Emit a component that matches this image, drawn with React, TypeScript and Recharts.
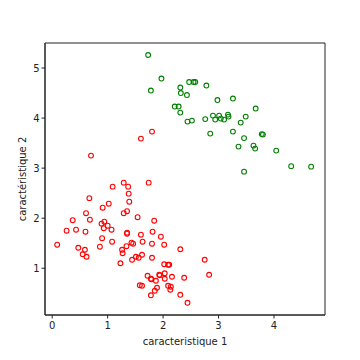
import { ScatterChart, Scatter, XAxis, YAxis, ReferenceArea } from "recharts"

// classe verte (caractéristique 1, caractéristique 2)
const greenX = [
  1.73, 1.97, 1.78, 2.31, 2.32, 2.43, 2.47, 2.21, 2.28, 2.31, 2.44, 2.55, 2.58, 2.78, 2.98, 3.26,
  3.67, 2.52, 2.76, 2.9, 2.94, 3.01, 3.04, 3.1, 3.17, 3.18, 3.49, 3.4, 2.85, 3.26, 3.46, 3.78,
  3.8, 3.36, 3.63, 3.66, 4.04, 4.31, 4.67, 3.46,
]
const greenY = [
  5.26, 4.79, 4.55, 4.61, 4.5, 4.46, 4.72, 4.23, 4.23, 4.11, 3.93, 4.72, 4.72, 4.65, 4.36, 4.39,
  4.19, 3.95, 3.98, 4.05, 3.97, 4.05, 3.99, 3.97, 4.07, 4.03, 4.03, 3.91, 3.69, 3.73, 3.6, 3.68,
  3.67, 3.43, 3.45, 3.39, 3.35, 3.04, 3.03, 2.93,
]

// classe rouge
const redX = [
  1.8, 1.6, 0.7, 0.09, 0.26, 0.37, 0.43, 0.47, 0.59, 0.55, 0.62, 0.6, 0.61, 0.68, 0.67, 0.91,
  0.89, 0.94, 0.93, 1.0, 1.07, 0.9, 0.86, 1.08, 1.02, 1.09, 1.29, 1.37, 1.38, 1.39, 1.29, 1.35,
  1.35, 1.35, 1.26, 1.27, 1.34, 1.43, 1.46, 1.23, 1.44, 1.51, 1.56, 1.62, 1.54, 1.6, 1.63, 1.74,
  1.84, 1.81, 1.8, 1.8, 1.96, 2.02, 2.02, 2.09, 2.11, 2.03, 2.03, 1.93, 1.94, 1.72, 1.78, 1.79,
  1.87, 1.58, 1.62, 1.89, 1.85, 1.78, 2.09, 2.14, 2.13, 2.16, 2.38, 2.31, 2.31, 2.44, 2.75, 2.83,
]
const redY = [
  3.73, 3.59, 3.25, 1.47, 1.75, 1.96, 1.77, 1.41, 1.37, 1.28, 1.23, 1.73, 2.1, 1.97, 2.4, 2.21,
  1.89, 1.93, 1.8, 1.85, 1.77, 1.6, 1.43, 1.53, 2.29, 2.63, 2.71, 2.63, 2.49, 2.33, 2.1, 2.14,
  1.71, 1.69, 1.37, 1.3, 1.44, 1.51, 1.49, 1.1, 1.17, 1.23, 1.21, 1.27, 2.02, 1.67, 1.53, 2.71,
  1.95, 1.73, 1.49, 1.21, 1.63, 1.47, 1.08, 1.07, 1.07, 0.9, 0.79, 0.87, 0.86, 0.85, 0.79, 0.78,
  0.75, 0.66, 0.65, 0.61, 0.55, 0.46, 0.65, 0.63, 0.57, 0.83, 0.81, 1.38, 0.47, 0.31, 1.17, 0.87,
]

const xTicks = [0, 1, 2, 3, 4]
const yTicks = [1, 2, 3, 4, 5]

const greenData = greenX.map((x, i) => ({ x, y: greenY[i] }))
const redData = redX.map((x, i) => ({ x, y: redY[i] }))

const font = "DejaVu Sans"
const tickStyle = { fontSize: 10, fontFamily: font, fill: "#222" }

function ring(color: string) {
  return (props: any) => (
    <circle cx={props.cx} cy={props.cy} r={2.4} fill="none" stroke={color} strokeWidth={1.1} />
  )
}

export default function App() {
  return (
    <div style={{ position: "absolute", left: 0, top: 0, width: 360, height: 360, background: "#fff" }}>
      <ScatterChart width={360} height={360} margin={{ top: 43, right: 35, left: 10, bottom: 10 }}>
        <XAxis
          type="number"
          dataKey="x"
          domain={[-0.13, 4.92]}
          ticks={xTicks}
          allowDataOverflow
          height={35}
          tickSize={3.5}
          tickMargin={3}
          stroke="#222"
          tick={tickStyle}
          label={{ value: "caracteristique 1", position: "insideBottom", offset: 5, style: { fontSize: 10, fontFamily: font, fill: "#222" } }}
        />
        <YAxis
          type="number"
          dataKey="y"
          domain={[0.066, 5.5]}
          ticks={yTicks}
          allowDataOverflow
          width={35}
          tickSize={3.5}
          tickMargin={2}
          stroke="#222"
          tick={tickStyle}
          label={{ value: "caractéristique 2", angle: -90, position: "insideLeft", offset: 12, style: { fontSize: 10, fontFamily: font, fill: "#222", textAnchor: "middle" } }}
        />
        <ReferenceArea x1={-0.13} x2={4.92} y1={0.066} y2={5.5} fill="none" stroke="#222" strokeWidth={1} ifOverflow="visible" />
        <Scatter data={greenData} shape={ring("#008000")} isAnimationActive={false} />
        <Scatter data={redData} shape={ring("#ff0000")} isAnimationActive={false} />
      </ScatterChart>
    </div>
  )
}
